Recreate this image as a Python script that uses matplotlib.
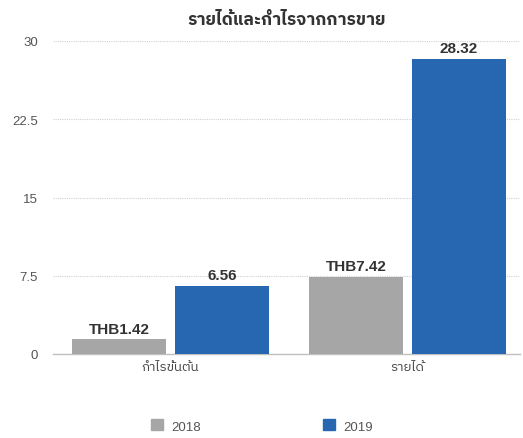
import matplotlib
matplotlib.use("Agg")
import matplotlib.pyplot as plt
from matplotlib import font_manager
from matplotlib.ft2font import FT2Font
from matplotlib.patches import Patch
import numpy as np

# Données
categories = ["กำไรขั้นต้น", "รายได้"]
series_names = ["2018", "2019"]
values_2018 = [1.42, 7.42]
values_2019 = [6.56, 28.32]
labels_2018 = ["THB1.42", "THB7.42"]
labels_2019 = ["6.56", "28.32"]
yticks = [0, 7.5, 15, 22.5, 30]
ytick_labels = ["0", "7.5", "15", "22.5", "30"]
title = "รายได้และกำไรจากการขาย"

colors = ["#a6a6a6", "#2767b1"]


# Trouver une police qui contient le thaï
def police_thai():
    trouvees = []
    for f in font_manager.fontManager.ttflist:
        try:
            if 0x0E23 in FT2Font(f.fname).get_charmap():
                trouvees.append(f.name)
        except Exception:
            pass
    trouvees.sort(key=lambda n: (0 if "Thai" in n else 1, n))
    return trouvees[0] if trouvees else "DejaVu Sans"


plt.rcParams["font.family"] = ["Liberation Sans", police_thai(), "DejaVu Sans"]

fig = plt.figure(figsize=(5.23, 4.39), dpi=100)
ax = fig.add_axes([53 / 523, 84 / 439, (520 - 53) / 523, (397 - 84) / 439])

x = np.arange(len(categories))
largeur = 0.397
decal = 0.217

b1 = ax.bar(x - decal, values_2018, largeur, color=colors[0], zorder=3)
b2 = ax.bar(x + decal, values_2019, largeur, color=colors[1], zorder=3)

for barres, etiquettes in [(b1, labels_2018), (b2, labels_2019)]:
    for b, txt in zip(barres, etiquettes):
        ax.text(b.get_x() + b.get_width() / 2, b.get_height() + 0.3, txt,
                ha="center", va="bottom", fontsize=11, fontweight="bold", color="#333333")

ax.set_xlim(-0.496, 1.475)
ax.set_ylim(0, 30)
ax.set_yticks(yticks)
ax.set_yticklabels(ytick_labels)
ax.set_xticks(x)
ax.set_xticklabels(categories)

# Grille pointillée
for t in yticks[1:]:
    ax.axhline(t, color="#d0d0d0", linestyle=(0, (1, 1)), linewidth=0.8, zorder=1)

for s in ["top", "right", "left"]:
    ax.spines[s].set_visible(False)
ax.spines["bottom"].set_color("#c0c0c0")
ax.spines["bottom"].set_linewidth(1)
ax.tick_params(axis="y", length=0, pad=11, labelsize=9.5, labelcolor="#555555")
ax.tick_params(axis="x", length=0, pad=5, labelsize=9.5, labelcolor="#444444")

ax.set_title(title, fontsize=12.5, fontweight="bold", color="#333333", pad=12)

# Légende
poignees = [Patch(color=c, label=n) for c, n in zip(colors, series_names)]
fig.legend(handles=poignees, loc="center", bbox_to_anchor=(262 / 523, 12 / 439),
           ncol=2, frameon=False, fontsize=9.5, labelcolor="#555555",
           handlelength=0.9, handleheight=0.9, handletextpad=0.6, columnspacing=9.3)

plt.savefig("out.png", dpi=100)
